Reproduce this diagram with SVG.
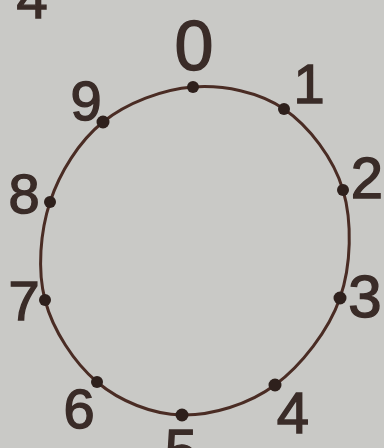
<svg xmlns="http://www.w3.org/2000/svg" width="384" height="448" viewBox="0 0 384 448">
<style>
.lbl{font-family:"Liberation Sans",Arial,sans-serif;fill:#3a2c28;stroke:#3a2c28;stroke-width:1.4;text-anchor:middle}
.dot{fill:#2e201c}
.ring{fill:none;stroke:#4a2c24;stroke-width:3}
</style>
<rect width="384" height="448" fill="#c9c9c6"/>
<text class="lbl" x="32" y="18" font-size="56">4</text>
<g id="connectors">
<path class="ring" d="M193,87 C223.2,84.8 259,91.8 284,109 C309,126.2 333.7,158.5 343,190 C352.3,221.5 351.3,265.5 340,298 C328.7,330.5 301.3,365.5 275,385 C248.7,404.5 211.7,415.5 182,415 C152.3,414.5 119.8,401.2 97,382 C74.2,362.8 52.8,330 45,300 C37.2,270 40.3,231.7 50,202 C59.7,172.3 79.2,141.2 103,122 C126.8,102.8 162.8,89.2 193,87 Z"/>
</g>
<g id="n0"><circle class="dot" cx="193" cy="87" r="6"/><text class="lbl" x="194" y="70" font-size="70">0</text></g>
<g id="n1"><circle class="dot" cx="284" cy="109" r="6"/><text class="lbl" x="309" y="103" font-size="56">1</text></g>
<g id="n2"><circle class="dot" cx="343" cy="190" r="6"/><text class="lbl" x="367" y="198" font-size="58">2</text></g>
<g id="n3"><circle class="dot" cx="340" cy="298" r="6.5"/><text class="lbl" x="365" y="317" font-size="60">3</text></g>
<g id="n4"><circle class="dot" cx="275" cy="385" r="6.5"/><text class="lbl" x="293" y="433" font-size="58">4</text></g>
<g id="n5"><circle class="dot" cx="182" cy="415" r="6.5"/><text class="lbl" x="181" y="470" font-size="58">5</text></g>
<g id="n6"><circle class="dot" cx="97" cy="382" r="6"/><text class="lbl" x="79" y="428" font-size="56">6</text></g>
<g id="n7"><circle class="dot" cx="45" cy="300" r="6"/><text class="lbl" x="24" y="320" font-size="56">7</text></g>
<g id="n8"><circle class="dot" cx="50" cy="202" r="6"/><text class="lbl" x="24" y="213" font-size="56">8</text></g>
<g id="n9"><circle class="dot" cx="103" cy="122" r="6.5"/><text class="lbl" x="86" y="120" font-size="56">9</text></g>
</svg>
